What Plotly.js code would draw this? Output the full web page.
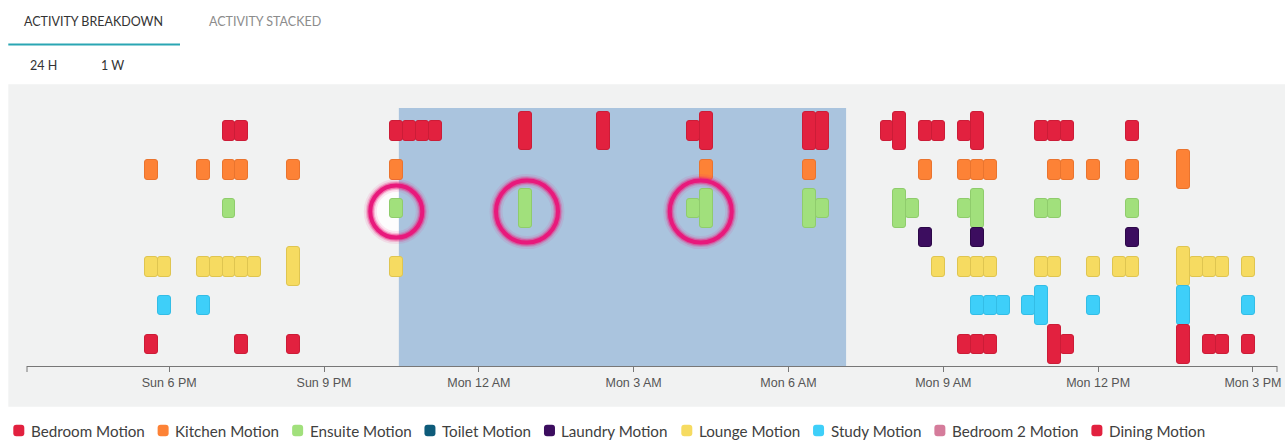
<!DOCTYPE html>
<html>
<head>
<meta charset="utf-8">
<script src="https://cdn.plot.ly/plotly-3.0.1.min.js"></script>
<style>
html,body{margin:0;padding:0;background:#fff;overflow:hidden}
#chart{width:1285px;height:440px}
</style>
</head>
<body>
<div id="chart"></div>
<script>
// ---------------- DATA ----------------
const DAY_SUN = '2019-03-10';
const DAY_MON = '2019-03-11';

const categories = ['Bedroom Motion','Kitchen Motion','Ensuite Motion','Toilet Motion','Laundry Motion','Lounge Motion','Study Motion','Bedroom 2 Motion','Dining Motion'];

// 15-minute bins: bin start time and number of events in that bin
const bedroomTimes  = ['Sun 19:00','Sun 19:15','Sun 22:15','Sun 22:30','Sun 22:45','Sun 23:00','Mon 00:45','Mon 02:15','Mon 04:00','Mon 04:15','Mon 06:15','Mon 06:30','Mon 07:45','Mon 08:00','Mon 08:30','Mon 08:45','Mon 09:15','Mon 09:30','Mon 10:45','Mon 11:00','Mon 11:15','Mon 12:30'];
const bedroomCounts = [1,1,1,1,1,1,2,2,1,2,2,2,1,2,1,1,1,2,1,1,1,1];

const kitchenTimes  = ['Sun 17:30','Sun 18:30','Sun 19:00','Sun 19:15','Sun 20:15','Sun 22:15','Mon 04:15','Mon 06:15','Mon 08:30','Mon 09:15','Mon 09:30','Mon 09:45','Mon 11:00','Mon 11:15','Mon 11:45','Mon 12:30','Mon 13:30'];
const kitchenCounts = [1,1,1,1,1,1,1,1,1,1,1,1,1,1,1,1,2];

const ensuiteTimes  = ['Sun 19:00','Sun 22:15','Mon 00:45','Mon 04:00','Mon 04:15','Mon 06:15','Mon 06:30','Mon 08:00','Mon 08:15','Mon 09:15','Mon 09:30','Mon 10:45','Mon 11:00','Mon 12:30'];
const ensuiteCounts = [1,1,2,1,2,2,1,2,1,1,2,1,1,1];

const toiletTimes  = [];
const toiletCounts = [];

const laundryTimes  = ['Mon 08:30','Mon 09:30','Mon 12:30'];
const laundryCounts = [1,1,1];

const loungeTimes  = ['Sun 17:30','Sun 17:45','Sun 18:30','Sun 18:45','Sun 19:00','Sun 19:15','Sun 19:30','Sun 20:15','Sun 22:15','Mon 08:45','Mon 09:15','Mon 09:30','Mon 09:45','Mon 10:45','Mon 11:00','Mon 11:45','Mon 12:15','Mon 12:30','Mon 13:30','Mon 13:45','Mon 14:00','Mon 14:15','Mon 14:45'];
const loungeCounts = [1,1,1,1,1,1,1,2,1,1,1,1,1,1,1,1,1,1,2,1,1,1,1];

const studyTimes  = ['Sun 17:45','Sun 18:30','Mon 09:30','Mon 09:45','Mon 10:00','Mon 10:30','Mon 10:45','Mon 11:45','Mon 13:30','Mon 14:45'];
const studyCounts = [1,1,1,1,1,1,2,1,2,1];

const bedroom2Times  = [];
const bedroom2Counts = [];

const diningTimes  = ['Sun 17:30','Sun 19:15','Sun 20:15','Mon 09:15','Mon 09:30','Mon 09:45','Mon 11:00','Mon 11:15','Mon 13:30','Mon 14:00','Mon 14:15','Mon 14:45'];
const diningCounts = [1,1,1,1,1,1,2,1,2,1,1,1];

// highlighted night window and circled ensuite events
const sleepStart = 'Sun 22:27';
const sleepEnd   = 'Mon 07:07';
const highlightTimes = ['Sun 22:24','Mon 00:56','Mon 04:18'];
const highlightCategory = 'Ensuite Motion';

// axis
const rangeStart = 'Sun 15:14:40';
const rangeEnd   = 'Mon 15:28:00';
const firstTick  = 'Sun 18:00';
const tickHours  = 3;

// ---------------- STYLE ----------------
const categoryColors = ['#e2213f','#fd8236','#a1e07c','#0e5b7a','#3c0d5f','#f6db61','#3ecff9','#d57c9b','#e2213f'];
const categoryLines  = ['#cc1c37','#ea742e','#8fcc6c','#0a4a63','#2c0848','#dfc550','#33bde6','#bf6887','#cc1c37'];
const BIN_MIN = 15;
const BIN_OFFSET_MIN = 2;
const PLOT = {left: 27, right: 1277, top: 108, bottom: 366};
const ROW_PAD_TOP = 0.186, ROW_PAD_BOTTOM = 0.113;
const HIGHLIGHT_R = [26, 31, 31];
const HIGHLIGHT_DY = -3;
const LEGEND_FONT = {family: 'Lato', size: 15.2, color: '#404040'};
const HEAD_FONT = 'Lato';

// ---------------- HELPERS ----------------
const seriesTimes  = [bedroomTimes, kitchenTimes, ensuiteTimes, toiletTimes, laundryTimes, loungeTimes, studyTimes, bedroom2Times, diningTimes];
const seriesCounts = [bedroomCounts, kitchenCounts, ensuiteCounts, toiletCounts, laundryCounts, loungeCounts, studyCounts, bedroom2Counts, diningCounts];

function toMs(t) {
  const [d, hm] = t.split(' ');
  const date = d === 'Sun' ? DAY_SUN : DAY_MON;
  const full = hm.length === 5 ? hm + ':00' : hm;
  return Date.parse(date + 'T' + full + 'Z');
}
function msToStr(ms) { return new Date(ms).toISOString().replace('T', ' ').slice(0, 19); }
function toDate(t) { return msToStr(toMs(t)); }
function binCenter(t) { return msToStr(toMs(t) + (BIN_MIN / 2 + BIN_OFFSET_MIN) * 60000); }
const BIN_MS = BIN_MIN * 60000;

const px2x = px => (px - PLOT.left) / (PLOT.right - PLOT.left);
const py2y = py => (PLOT.bottom - py) / (PLOT.bottom - PLOT.top);

// Row layout (top to bottom): each row as tall as its largest bin count
const rowHeights = seriesCounts.map(c => c.length ? Math.max(...c) : 0);
const totalRows = rowHeights.reduce((a, b) => a + b, 0);
let acc = 0;
const rowValues = rowHeights.map(h => { const c = acc + h / 2; acc += h; return totalRows - c; });
const yRange = [-ROW_PAD_BOTTOM, totalRows + ROW_PAD_TOP];

// ---------------- TRACES ----------------
const traces = [];
categories.forEach((name, i) => {
  const times = seriesTimes[i], counts = seriesCounts[i];
  const c = rowValues[i];
  const xs = times.map(binCenter);
  traces.push({
    type: 'bar', name: name, showlegend: false,
    x: xs, width: xs.map(() => BIN_MS),
    base: counts.map(n => c - n / 2), y: counts,
    marker: {color: categoryColors[i], line: {color: categoryLines[i], width: 1}, cornerradius: 3},
    customdata: times, hovertemplate: '%{customdata}: %{y}<extra>' + name + '</extra>'
  });
});

// ---------------- SHAPES ----------------
const shapes = [];
// grey panel
shapes.push({type: 'rect', xref: 'paper', yref: 'paper', x0: px2x(8.3), x1: px2x(1295), y0: py2y(406.7), y1: py2y(84.3),
  fillcolor: '#f1f2f2', line: {width: 0}, layer: 'below'});
// tab underline
shapes.push({type: 'line', xref: 'paper', yref: 'paper', x0: px2x(8.3), x1: px2x(180), y0: py2y(44.5), y1: py2y(44.5),
  line: {color: '#2aa6b3', width: 2}});
// axis end ticks
[0, 1].forEach(xp => shapes.push({type: 'line', xref: 'paper', yref: 'paper', ysizemode: 'pixel', yanchor: 0,
  x0: xp, x1: xp, y0: 0, y1: -6, line: {color: '#777', width: 1}}));

const hlRow = rowValues[categories.indexOf(highlightCategory)];
// white inner of highlight rings (under the night window)
highlightTimes.forEach((t, k) => {
  const r = HIGHLIGHT_R[k];
  shapes.push({type: 'circle', xref: 'x', yref: 'y', xsizemode: 'pixel', ysizemode: 'pixel',
    xanchor: toDate(t), yanchor: hlRow, x0: -r, x1: r, y0: -r + HIGHLIGHT_DY, y1: r + HIGHLIGHT_DY,
    fillcolor: 'rgba(255,255,255,0.85)', line: {width: 0}, layer: 'below'});
});
// night window
shapes.push({type: 'rect', xref: 'x', yref: 'y', x0: toDate(sleepStart), x1: toDate(sleepEnd), y0: yRange[0], y1: yRange[1],
  fillcolor: '#aac4de', line: {width: 0}, layer: 'below'});
// highlight rings with glow
highlightTimes.forEach((t, k) => {
  const r = HIGHLIGHT_R[k];
  [[13, 'rgba(235,30,125,0.10)'], [9, 'rgba(235,30,125,0.22)'], [6.5, 'rgba(235,30,125,0.45)'], [4, '#e8197c']].forEach(([w, col]) => {
    shapes.push({type: 'circle', xref: 'x', yref: 'y', xsizemode: 'pixel', ysizemode: 'pixel',
      xanchor: toDate(t), yanchor: hlRow, x0: -r, x1: r, y0: -r + HIGHLIGHT_DY, y1: r + HIGHLIGHT_DY,
      line: {color: col, width: w}, fillcolor: 'rgba(0,0,0,0)', layer: 'above'});
  });
});

// ---------------- ANNOTATIONS ----------------
const annotations = [];
function label(text, px, py, font, anchor) {
  annotations.push({text: text, xref: 'paper', yref: 'paper', x: px2x(px), y: py2y(py), xanchor: anchor || 'left', yanchor: 'middle',
    showarrow: false, font: font, borderpad: 0});
}
label('ACTIVITY BREAKDOWN', 23, 21, {family: HEAD_FONT, size: 12.5, color: '#333'});
label('ACTIVITY STACKED', 208, 21, {family: HEAD_FONT, size: 12.5, color: '#8c8c8c'});
label('24 H', 29, 66, {family: HEAD_FONT, size: 12.5, color: '#333'});
label('1 W', 100, 66, {family: HEAD_FONT, size: 12.5, color: '#333'});

// legend, laid out from measured text widths
const cv = document.createElement('canvas').getContext('2d');
cv.font = LEGEND_FONT.size + 'px ' + LEGEND_FONT.family;
let lx = 13.3;
const legendY = 430.5;
function roundRectPath(w, h, r) {
  const x0 = -w / 2, x1 = w / 2, y0 = -h / 2, y1 = h / 2;
  return `M${x0 + r},${y0} L${x1 - r},${y0} Q${x1},${y0} ${x1},${y0 + r} L${x1},${y1 - r} Q${x1},${y1} ${x1 - r},${y1} ` +
         `L${x0 + r},${y1} Q${x0},${y1} ${x0},${y1 - r} L${x0},${y0 + r} Q${x0},${y0} ${x0 + r},${y0} Z`;
}
categories.forEach((name, i) => {
  shapes.push({type: 'path', xref: 'paper', yref: 'paper', xsizemode: 'pixel', ysizemode: 'pixel',
    xanchor: px2x(lx + 5.5), yanchor: py2y(legendY), path: roundRectPath(11, 11.5, 3),
    fillcolor: categoryColors[i], line: {width: 0}});
  label(name, lx + 16.5, legendY, LEGEND_FONT);
  lx += 16.5 + cv.measureText(name).width + 14;
});

// ---------------- LAYOUT ----------------
const layout = {
  width: 1285, height: 440,
  margin: {l: PLOT.left, r: 1285 - PLOT.right, t: PLOT.top, b: 440 - PLOT.bottom, pad: 0},
  paper_bgcolor: '#ffffff', plot_bgcolor: 'rgba(0,0,0,0)',
  barmode: 'overlay', bargap: 0,
  showlegend: false,
  xaxis: {
    type: 'date', range: [toDate(rangeStart), toDate(rangeEnd)],
    tickmode: 'linear', tick0: toDate(firstTick), dtick: tickHours * 3600000,
    tickformat: '%a %-I %p', ticks: 'outside', ticklen: 5, tickcolor: '#777', tickwidth: 1,
    showline: true, linecolor: '#777', linewidth: 1, showgrid: false, zeroline: false,
    tickfont: {family: 'Liberation Sans', size: 12.5, color: '#555'}, fixedrange: true
  },
  yaxis: {
    range: yRange, visible: false, showgrid: false, zeroline: false, fixedrange: true
  },
  shapes: shapes,
  annotations: annotations,
  hovermode: 'closest'
};

Plotly.newPlot('chart', traces, layout, {displayModeBar: false, responsive: false});
</script>
</body>
</html>
